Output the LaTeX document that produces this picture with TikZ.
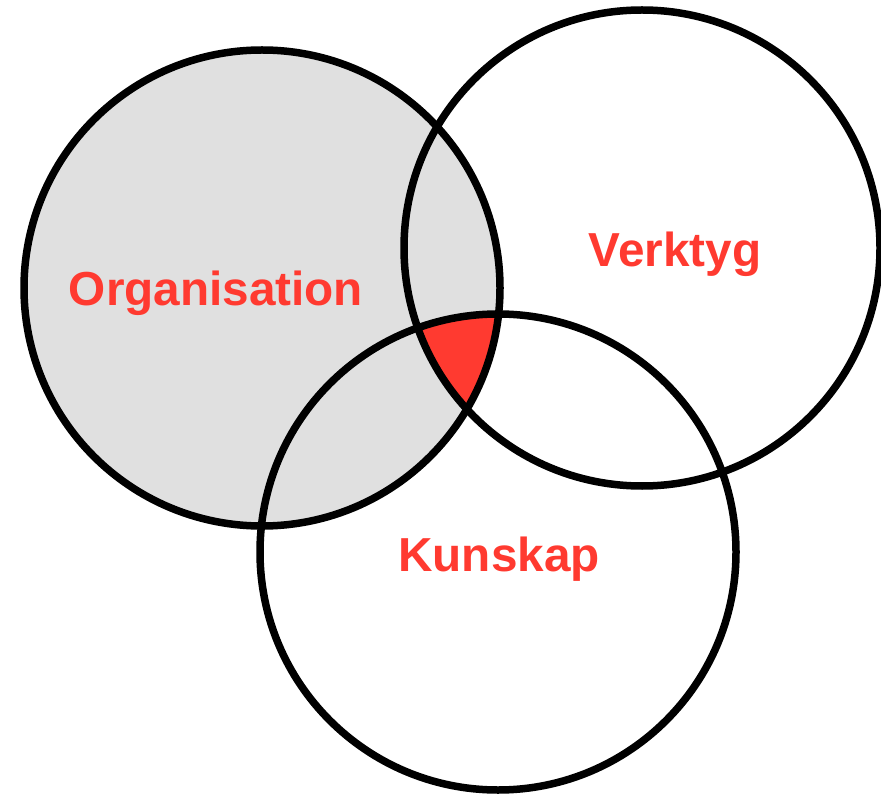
\documentclass[tikz,border=0pt]{standalone}
\usepackage{fontspec}
\setmainfont{Liberation Sans}
\definecolor{vred}{RGB}{255,58,48}
\definecolor{vgray}{RGB}{224,224,224}
\begin{document}
\begin{tikzpicture}[x=1pt,y=-1pt,
  ring/.style={draw=black,line width=7.5pt},
  lbl/.style={text=vred,font=\bfseries\fontsize{47.7}{56}\selectfont,anchor=base,inner sep=0pt}]
\useasboundingbox (0,0) rectangle (881,794);
\coordinate (c1) at (262,288);
\coordinate (c2) at (642,248);
\coordinate (c3) at (498,552);
\fill[vgray] (c1) circle (238);
\begin{scope}
  \clip (c1) circle (238);
  \clip (c2) circle (238);
  \fill[vred] (c3) circle (238);
\end{scope}
\draw[ring] (c1) circle (238);
\draw[ring] (c2) circle (238);
\draw[ring] (c3) circle (238);
\node[lbl] (org) at (216,306) {Organisation};
\node[lbl] (verk) at (675,267) {Verktyg};
\node[lbl] (kun) at (499,571) {Kunskap};
\end{tikzpicture}
\end{document}
